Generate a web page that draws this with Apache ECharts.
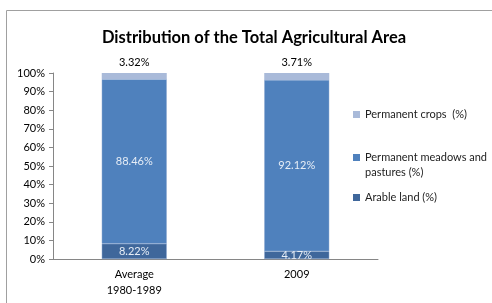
<!DOCTYPE html>
<html>
<head>
<meta charset="utf-8">
<script src="https://cdn.jsdelivr.net/npm/echarts@6/dist/echarts.min.js"></script>
<style>
  html, body { margin: 0; padding: 0; background: #fff; }
  #chart { width: 492px; height: 303px; }
</style>
</head>
<body>
<div id="chart"></div>
<script>
// 数据
var categories = ["Average\n1980-1989", "2009"];
var arable = [8.22, 4.17];
var meadows = [88.46, 92.12];
var crops = [3.32, 3.71];
var yTicks = [0, 10, 20, 30, 40, 50, 60, 70, 80, 90, 100];

var font = "Lato, 'Open Sans', sans-serif";
var chart = echarts.init(document.getElementById("chart"));

function pct(p) {
  return p.value.toFixed(2) + "%";
}

var innerLabel = {
  show: true,
  position: "inside",
  formatter: pct,
  color: "#e6edf6",
  fontFamily: font,
  fontSize: 11
};

var legendText = { fontFamily: font, fontSize: 11, color: "#222", lineHeight: 15 };

var option = {
  animation: false,
  textStyle: { fontFamily: font },
  graphic: [
    {
      type: "rect",
      shape: { x: 6.5, y: 10.5, width: 600, height: 400 },
      style: { fill: "none", stroke: "#a0a0a0", lineWidth: 1 },
      silent: true
    }
  ],
  title: {
    text: "Distribution of the Total Agricultural Area",
    left: 249,
    top: 24,
    textAlign: "center",
    textStyle: { fontFamily: font, fontSize: 16.5, fontWeight: "bold", color: "#000" }
  },
  legend: [
    {
      left: 353, top: 107, padding: 0,
      orient: "vertical",
      itemWidth: 7, itemHeight: 7,
      icon: "rect",
      itemStyle: { borderWidth: 0 },
      data: ["Permanent crops  (%)"],
      textStyle: legendText
    },
    {
      left: 353, top: 150, padding: 0,
      orient: "vertical",
      itemWidth: 7, itemHeight: 22,
      icon: "path://M0,0L7,0L7,7L0,7Z M0,22L0.01,22",
      itemStyle: { borderWidth: 0 },
      data: ["Permanent meadows and\npastures (%)"],
      textStyle: legendText
    },
    {
      left: 353, top: 190, padding: 0,
      orient: "vertical",
      itemWidth: 7, itemHeight: 7,
      icon: "rect",
      itemStyle: { borderWidth: 0 },
      data: ["Arable land (%)"],
      textStyle: legendText
    }
  ],
  grid: { left: 53, right: 114, top: 73, bottom: 44 },
  xAxis: {
    type: "category",
    data: categories,
    axisLine: { lineStyle: { color: "#868686" } },
    axisTick: { length: 4, lineStyle: { color: "#868686" } },
    axisLabel: { color: "#000", fontFamily: font, fontSize: 11, lineHeight: 16, margin: 7 }
  },
  yAxis: {
    type: "value",
    min: 0,
    max: 100,
    interval: 10,
    splitLine: { show: false },
    axisLine: { show: true, lineStyle: { color: "#868686" } },
    axisTick: { show: true, length: 4, lineStyle: { color: "#868686" } },
    axisLabel: {
      color: "#000",
      fontFamily: font,
      fontSize: 11,
      margin: 8,
      formatter: function (v) {
        return yTicks.indexOf(v) >= 0 ? v + "%" : "";
      }
    }
  },
  series: [
    {
      name: "Arable land (%)",
      type: "bar",
      stack: "total",
      barWidth: "40%",
      data: arable,
      itemStyle: { color: "#3f679b", borderColor: "#8fa9d0", borderWidth: 0.5 },
      label: innerLabel
    },
    {
      name: "Permanent meadows and\npastures (%)",
      type: "bar",
      stack: "total",
      data: meadows,
      itemStyle: { color: "#4f81bd", borderColor: "#8fa9d0", borderWidth: 0.5 },
      label: innerLabel
    },
    {
      name: "Permanent crops  (%)",
      type: "bar",
      stack: "total",
      data: crops,
      itemStyle: { color: "#a9bad9" },
      label: {
        show: true,
        position: "top",
        distance: 5,
        formatter: pct,
        color: "#000",
        fontFamily: font,
        fontSize: 11
      }
    }
  ]
};

chart.setOption(option);
</script>
</body>
</html>
